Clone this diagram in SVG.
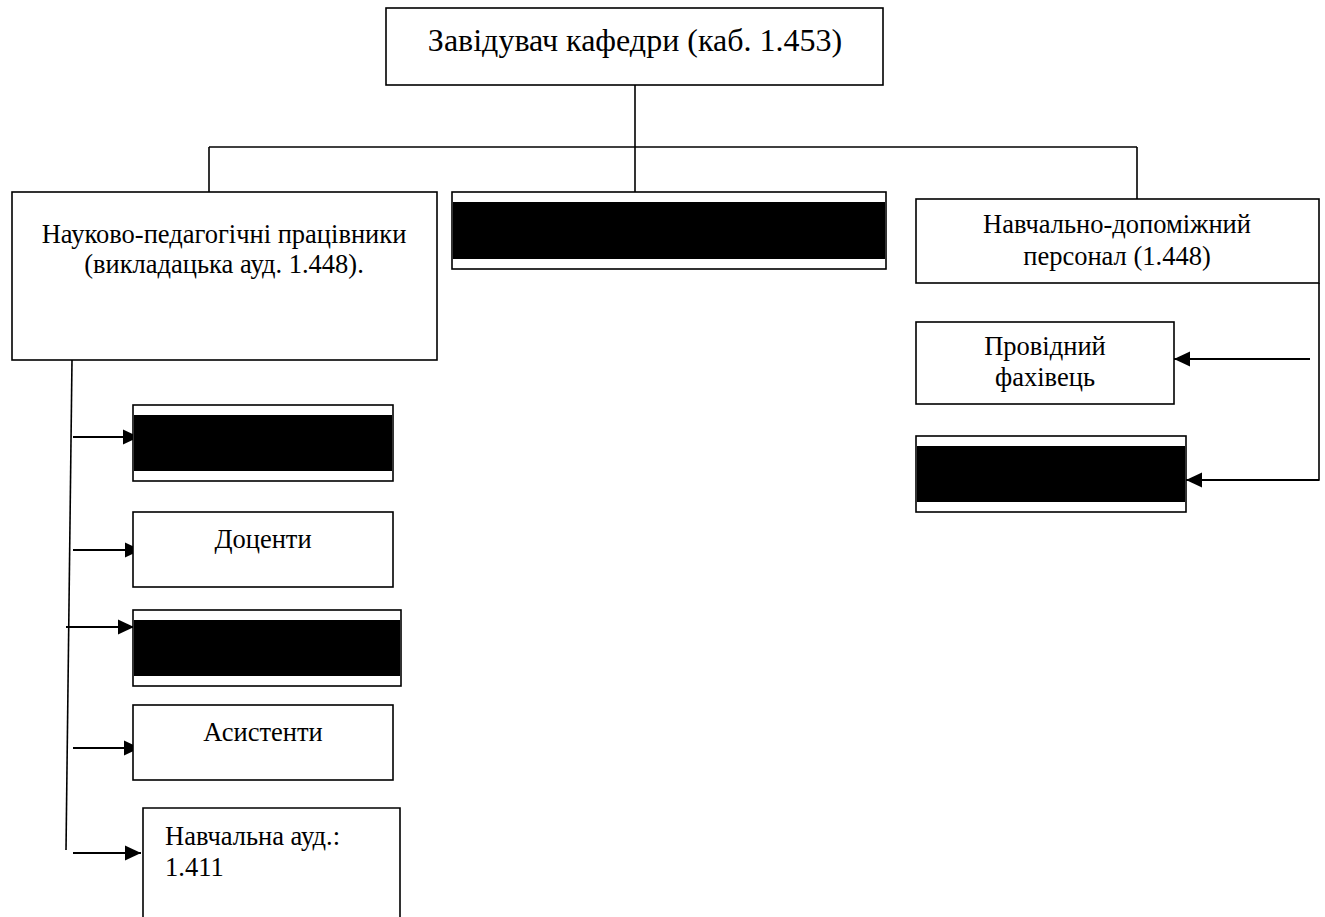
<svg xmlns="http://www.w3.org/2000/svg" width="1325" height="917" viewBox="0 0 1325 917">
<defs>
<marker id="ah" markerUnits="userSpaceOnUse" markerWidth="17" markerHeight="15" refX="16" refY="7.5" orient="auto" overflow="visible">
<path d="M0,0 L16,7.5 L0,15 Z" fill="#000"/>
</marker>
<style>
.box{fill:#fff;stroke:#000;stroke-width:1.6}
.bar{fill:#000}
.ln{fill:none;stroke:#000;stroke-width:1.6}
.ar{fill:none;stroke:#000;stroke-width:2.2;marker-end:url(#ah)}
text{font-family:"Liberation Serif","Times New Roman",serif;fill:#000;font-size:26.5px}
.c{text-anchor:middle}
</style>
</defs>
<rect width="1325" height="917" fill="#fff"/>
<g id="connectors">
<path class="ln" d="M635,85 V192"/>
<path class="ln" d="M209,147 H1137"/>
<path class="ln" d="M209,147 V192"/>
<path class="ln" d="M1137,147 V199"/>
<path class="ln" d="M72,360 L66,850"/>
<path class="ar" d="M73,437 H139"/>
<path class="ar" d="M73,550 H141"/>
<path class="ar" d="M66,627 H134"/>
<path class="ar" d="M73,748 H140"/>
<path class="ar" d="M73,853 H141"/>
<path class="ln" d="M1319,283 V480 H1200"/>
<path class="ar" d="M1319,480 H1186"/>
<path class="ar" d="M1310,359 H1174"/>
</g>
<g id="head">
<rect class="box" x="386" y="8" width="497" height="77"/>
<text class="c" x="635" y="51" style="font-size:32px">Завідувач кафедри (каб. 1.453)</text>
</g>
<g id="npp">
<rect class="box" x="12" y="192" width="425" height="168"/>
<text class="c" x="224" y="243">Науково-педагогічні працівники</text>
<text class="c" x="224" y="273">(викладацька ауд. 1.448).</text>
</g>
<g id="middle">
<rect class="box" x="452" y="192" width="434" height="77"/>
<rect class="bar" x="453" y="202" width="432" height="57"/>
</g>
<g id="ndp">
<rect class="box" x="916" y="199" width="403" height="84"/>
<text class="c" x="1117" y="233">Навчально-допоміжний</text>
<text class="c" x="1117" y="265">персонал (1.448)</text>
</g>
<g id="provid">
<rect class="box" x="916" y="322" width="258" height="82"/>
<text class="c" x="1045" y="355">Провідний</text>
<text class="c" x="1045" y="386">фахівець</text>
</g>
<g id="right-black">
<rect class="box" x="916" y="436" width="270" height="76"/>
<rect class="bar" x="917" y="446" width="268" height="56"/>
</g>
<g id="left-black-1">
<rect class="box" x="133" y="405" width="260" height="76"/>
<rect class="bar" x="134" y="415" width="258" height="56"/>
</g>
<g id="docenty">
<rect class="box" x="133" y="512" width="260" height="75"/>
<text class="c" x="263" y="548">Доценти</text>
</g>
<g id="left-black-2">
<rect class="box" x="133" y="610" width="268" height="76"/>
<rect class="bar" x="134" y="620" width="266" height="56"/>
</g>
<g id="asystenty">
<rect class="box" x="133" y="705" width="260" height="75"/>
<text class="c" x="263" y="741">Асистенти</text>
</g>
<g id="navch-aud">
<path class="ln" d="M143,930 V808 H400 V930"/>
<text x="165" y="845">Навчальна ауд.:</text>
<text x="165" y="876">1.411</text>
</g>
</svg>
